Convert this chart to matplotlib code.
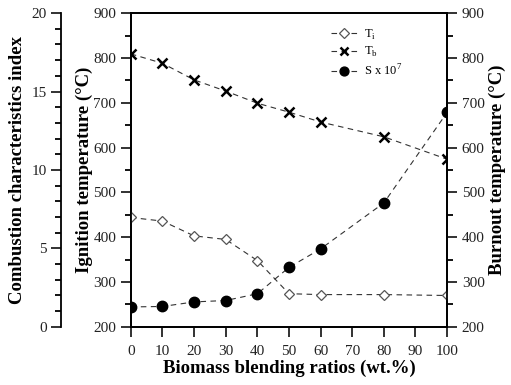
import matplotlib
matplotlib.use('Agg')
import matplotlib.pyplot as plt
from matplotlib.ticker import MultipleLocator

plt.rcParams['font.family'] = ['Liberation Serif', 'DejaVu Serif']
plt.rcParams['mathtext.fontset'] = 'custom'
plt.rcParams['mathtext.rm'] = 'Liberation Serif'

# data
blend = [0, 10, 20, 30, 40, 50, 60, 80, 100]
t_ign = [444, 436, 403, 395, 348, 274, 272, 272, 270]
t_burn = [809, 788, 751, 726, 699, 679, 657, 624, 574]
s_index = [1.27, 1.3, 1.59, 1.68, 2.11, 3.79, 4.97, 7.9, 13.67]

fig = plt.figure(figsize=(5.11, 3.85), dpi=100)
ax = fig.add_axes([0.256, 0.151, 0.619, 0.815])
ax2 = ax.twinx()
ax3 = ax.twinx()

line_kw = dict(color='#333333', linestyle=(0, (5, 4)), linewidth=0.8)
h1, = ax.plot(blend, t_ign, marker='D', markersize=5.5, markerfacecolor='white',
              markeredgecolor='#555555', markeredgewidth=0.9, label=r'T$_\mathrm{i}$',
              zorder=3, **line_kw)
h2, = ax2.plot(blend, t_burn, marker='x', markersize=7, markeredgecolor='black',
               markeredgewidth=1.8, label=r'T$_\mathrm{b}$', zorder=3, **line_kw)
h3, = ax3.plot(blend, s_index, marker='o', markersize=7.5, markerfacecolor='black',
               markeredgecolor='black', label=r'S x 10$^\mathrm{7}$', zorder=3, **line_kw)

for a in (ax, ax2):
    a.set_ylim(200, 900)
    a.yaxis.set_major_locator(MultipleLocator(100))
    a.yaxis.set_minor_locator(MultipleLocator(50))
ax.set_xlim(0, 100)
ax.xaxis.set_major_locator(MultipleLocator(10))

ax3.set_ylim(0, 20)
ax3.yaxis.set_major_locator(MultipleLocator(5))
ax3.yaxis.set_minor_locator(MultipleLocator(1))
ax3.spines['left'].set_position(('outward', 50))
ax3.spines['left'].set_visible(True)
ax3.yaxis.set_label_position('left')
ax3.yaxis.set_ticks_position('left')
for s in ('right', 'top', 'bottom'):
    ax3.spines[s].set_visible(False)

for a in (ax, ax2, ax3):
    for s in a.spines.values():
        s.set_linewidth(1.3)
    a.tick_params(which='major', direction='out', length=7, width=1.3,
                  labelsize=11, colors='#222222')
    a.tick_params(which='minor', direction='out', length=4, width=1.3)
ax.tick_params(axis='x', which='major', length=7, pad=6)

ax.set_xlabel('Biomass blending ratios (wt.%)', fontsize=13.5, fontweight='bold', labelpad=1)
ax.set_ylabel('Ignition temperature (\u00b0C)', fontsize=13.5, fontweight='bold', labelpad=0)
ax2.set_ylabel('Burnout temperature (\u00b0C)', fontsize=13.5, fontweight='bold', labelpad=3)
ax3.set_ylabel('Combustion characteristics index', fontsize=13.5, fontweight='bold', labelpad=4)

ax.legend(handles=[h1, h2, h3], loc='upper right', bbox_to_anchor=(0.895, 0.99),
          frameon=False, fontsize=9, handlelength=2.2, handletextpad=0.5,
          labelspacing=0.3, markerscale=0.85)

fig.savefig('out.png', dpi=100)
